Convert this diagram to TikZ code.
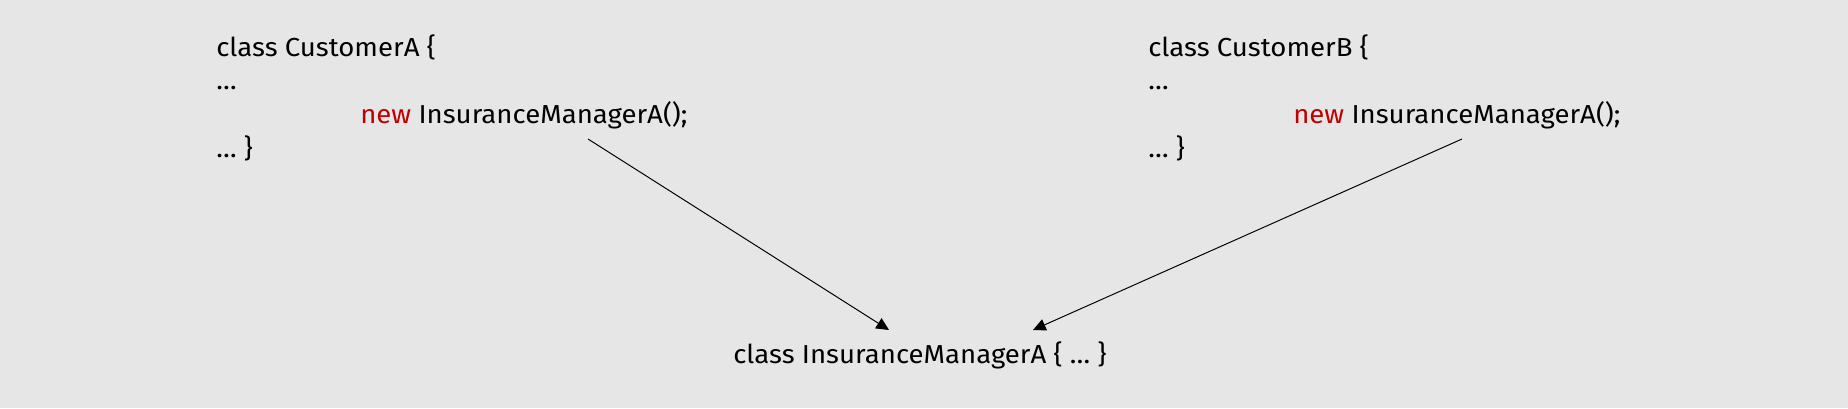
\documentclass[tikz,border=0pt]{standalone}
\usepackage{fontspec}
\setmainfont[FakeStretch=1.06]{Fira Sans}
\usetikzlibrary{arrows.meta}
\definecolor{bggray}{RGB}{230,230,230}
\definecolor{kwred}{RGB}{192,0,0}
\tikzset{code/.style={anchor=base west,inner sep=0pt,font=\fontsize{18.5}{18.5}\selectfont}}

\begin{document}
\begin{tikzpicture}[x=0.025cm,y=-0.025cm]
	\fill[bggray] (0,0) rectangle (1848,408);
	\useasboundingbox (0,0) rectangle (1848,408);
	% first client
	\node[code] (ca1) at (216,56)   {class CustomerA \{};
	\node[code] (ca2) at (216,89)   {…};
	\node[code] (ca3) at (360,123)  {\textcolor{kwred}{new} InsuranceManagerA();};
	\node[code] (ca4) at (216,157)  {… \}};
	% second client
	\node[code] (cb1) at (1148,56)  {class CustomerB \{};
	\node[code] (cb2) at (1148,89)  {…};
	\node[code] (cb3) at (1293,123) {\textcolor{kwred}{new} InsuranceManagerA();};
	\node[code] (cb4) at (1148,157) {… \}};
	% shared class
	\node[code] (mgr) at (733,363)  {class InsuranceManagerA \{ … \}};
	\coordinate (fromA) at (588,139);
	\coordinate (fromB) at (1462,139);
	\coordinate (toA) at (889,330);
	\coordinate (toB) at (1033,330);
	\path[-{Triangle[length=9pt,width=8.5pt]},line width=0.7pt] (fromA) edge (toA);
	\path[-{Triangle[length=9pt,width=8.5pt]},line width=0.7pt] (fromB) edge (toB);
\end{tikzpicture}
\end{document}
